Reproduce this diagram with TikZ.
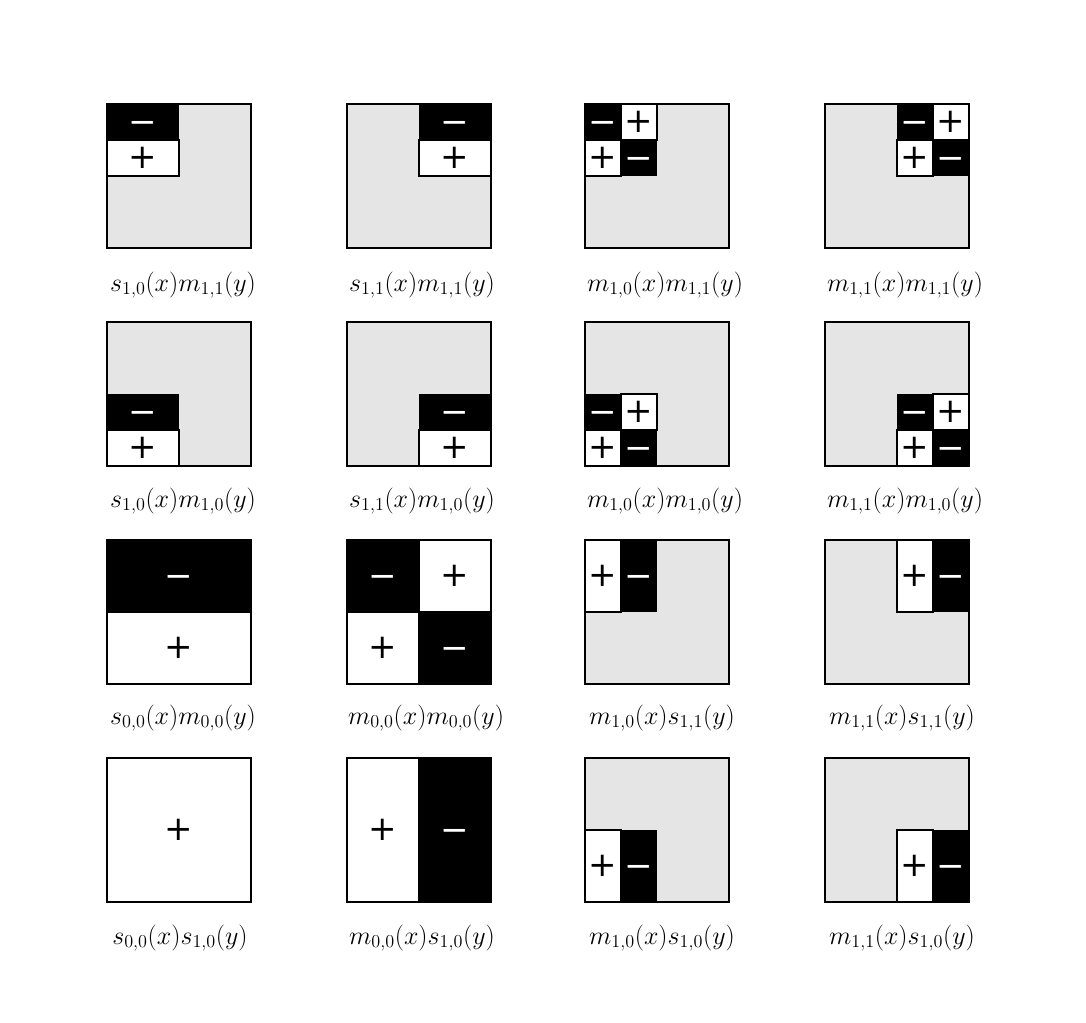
\RequirePackage{fix-cm}
\documentclass[tikz,border=0pt]{standalone}
\usepackage{fontspec}
\newfontfamily\pmfont{DejaVu Sans}
\usepackage{xcolor}
\definecolor{panelgray}{HTML}{E5E5E5}
\tikzset{
  frame/.style={draw=black,line width=1.6pt},
  grayfill/.style={fill=panelgray},
  wcell/.style={fill=white,draw=black,line width=1.6pt},
  bcell/.style={fill=black},
  pm/.style={inner sep=0pt,font=\pmfont\fontsize{29}{29}\selectfont},
  lab/.style={inner sep=0pt,font=\fontsize{22.2}{26}\selectfont}
}
\newcommand\Wc[5]{\filldraw[wcell] (#2,#3) rectangle ++(#4,#5);
  \node[pm] (#1) at (#2+#4/2,#3+#5/2) {+};}
\newcommand\Bc[5]{\fill[bcell] (#2,#3) rectangle ++(#4,#5);
  \node[pm,text=white,yshift=-0.15cm] (#1) at (#2+#4/2,#3+#5/2) {−};}
\newcommand\Gp[2]{\fill[grayfill] (#1,#2) rectangle ++(144,144);}
\newcommand\Fp[2]{\draw[frame] (#1,#2) rectangle ++(144,144);}
\begin{document}
\begin{tikzpicture}[x=0.03cm,y=-0.03cm]
\useasboundingbox[fill=white] (0,0) rectangle (1086,1022);
% ---- Row 1 ----
\Gp{107}{104}\Bc{a1}{107}{104}{72}{36}\Wc{a2}{107}{140}{72}{36}\Fp{107}{104}
\Gp{347}{104}\Bc{b1}{419}{104}{72}{36}\Wc{b2}{419}{140}{72}{36}\Fp{347}{104}
\Gp{585}{104}\Bc{c1}{585}{104}{36}{36}\Wc{c2}{621}{104}{36}{36}\Wc{c3}{585}{140}{36}{36}\Bc{c4}{621}{140}{36}{36}\Fp{585}{104}
\Gp{825}{104}\Bc{d1}{897}{104}{36}{36}\Wc{d2}{933}{104}{36}{36}\Wc{d3}{897}{140}{36}{36}\Bc{d4}{933}{140}{36}{36}\Fp{825}{104}
\node[lab] (l11) at (183,285) {$s_{1,0}(x)m_{1,1}(y)$};
\node[lab] (l12) at (422,285) {$s_{1,1}(x)m_{1,1}(y)$};
\node[lab] (l13) at (665,285) {$m_{1,0}(x)m_{1,1}(y)$};
\node[lab] (l14) at (905,285) {$m_{1,1}(x)m_{1,1}(y)$};
% ---- Row 2 ----
\Gp{107}{322}\Bc{e1}{107}{394}{72}{36}\Wc{e2}{107}{430}{72}{36}\Fp{107}{322}
\Gp{347}{322}\Bc{f1}{419}{394}{72}{36}\Wc{f2}{419}{430}{72}{36}\Fp{347}{322}
\Gp{585}{322}\Bc{g1}{585}{394}{36}{36}\Wc{g2}{621}{394}{36}{36}\Wc{g3}{585}{430}{36}{36}\Bc{g4}{621}{430}{36}{36}\Fp{585}{322}
\Gp{825}{322}\Bc{h1}{897}{394}{36}{36}\Wc{h2}{933}{394}{36}{36}\Wc{h3}{897}{430}{36}{36}\Bc{h4}{933}{430}{36}{36}\Fp{825}{322}
\node[lab] (l21) at (183,501) {$s_{1,0}(x)m_{1,0}(y)$};
\node[lab] (l22) at (422,501) {$s_{1,1}(x)m_{1,0}(y)$};
\node[lab] (l23) at (665,501) {$m_{1,0}(x)m_{1,0}(y)$};
\node[lab] (l24) at (905,501) {$m_{1,1}(x)m_{1,0}(y)$};
% ---- Row 3 ----
\Bc{i1}{107}{540}{144}{72}\Wc{i2}{107}{612}{144}{72}\Fp{107}{540}
\Bc{j1}{347}{540}{72}{72}\Wc{j2}{419}{540}{72}{72}\Wc{j3}{347}{612}{72}{72}\Bc{j4}{419}{612}{72}{72}\Fp{347}{540}
\Gp{585}{540}\Wc{k1}{585}{540}{36}{72}\Bc{k2}{621}{540}{36}{72}\Fp{585}{540}
\Gp{825}{540}\Wc{m1}{897}{540}{36}{72}\Bc{m2}{933}{540}{36}{72}\Fp{825}{540}
\node[lab] (l31) at (183,718) {$s_{0,0}(x)m_{0,0}(y)$};
\node[lab] (l32) at (426,718) {$m_{0,0}(x)m_{0,0}(y)$};
\node[lab] (l33) at (662,718) {$m_{1,0}(x)s_{1,1}(y)$};
\node[lab] (l34) at (902,718) {$m_{1,1}(x)s_{1,1}(y)$};
% ---- Row 4 ----
\Wc{n1}{107}{758}{144}{144}\Fp{107}{758}
\Wc{o1}{347}{758}{72}{144}\Bc{o2}{419}{758}{72}{144}\Fp{347}{758}
\Gp{585}{758}\Wc{p1}{585}{830}{36}{72}\Bc{p2}{621}{830}{36}{72}\Fp{585}{758}
\Gp{825}{758}\Wc{q1}{897}{830}{36}{72}\Bc{q2}{933}{830}{36}{72}\Fp{825}{758}
\node[lab] (l41) at (180,938) {$s_{0,0}(x)s_{1,0}(y)$};
\node[lab] (l42) at (422,938) {$m_{0,0}(x)s_{1,0}(y)$};
\node[lab] (l43) at (662,938) {$m_{1,0}(x)s_{1,0}(y)$};
\node[lab] (l44) at (902,938) {$m_{1,1}(x)s_{1,0}(y)$};
\end{tikzpicture}
\end{document}
